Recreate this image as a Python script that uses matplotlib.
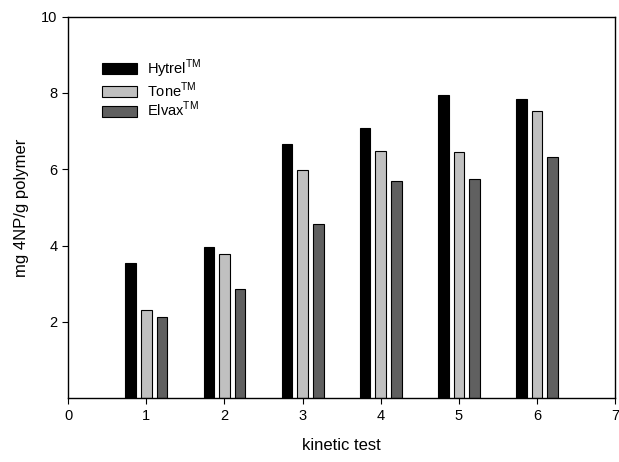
import matplotlib.pyplot as plt
import numpy as np

plt.rcParams['font.family'] = ['Liberation Sans', 'DejaVu Sans']

tests = [1, 2, 3, 4, 5, 6]
hytrel = [3.54, 3.97, 6.66, 7.07, 7.94, 7.84]
tone = [2.31, 3.79, 5.98, 6.48, 6.45, 7.53]
elvax = [2.12, 2.86, 4.56, 5.70, 5.75, 6.31]

series = [('Hytrel', hytrel, '#000000'),
          ('Tone', tone, '#c0c0c0'),
          ('Elvax', elvax, '#606060')]

fig = plt.figure(figsize=(6.19, 4.62), dpi=100)
ax = fig.add_axes([0.110, 0.138, 0.884, 0.826])

x = np.array(tests)
w = 0.135
offsets = [-0.2, 0.0, 0.2]
for (name, vals, col), off in zip(series, offsets):
    ax.bar(x + off, vals, width=w, color=col, edgecolor='black', linewidth=0.8,
           label=name + r'$^{\mathregular{TM}}$')

ax.set_xlim(0, 7)
ax.set_ylim(0, 10)
ax.set_xticks(range(0, 8))
ax.set_yticks([2, 4, 6, 8, 10])
ax.tick_params(direction='out', length=4, labelsize=10.5)
ax.tick_params(axis='both', which='both', right=False, top=False)
for s in ax.spines.values():
    s.set_linewidth(1.0)

ax.set_xlabel('kinetic test', fontsize=12, labelpad=11)
ax.set_ylabel('mg 4NP/g polymer', fontsize=12, labelpad=9)

ax.legend(loc='upper left', bbox_to_anchor=(0.04, 0.923), frameon=False,
          fontsize=10.5, handlelength=2.4, handleheight=0.8, labelspacing=0.02,
          handletextpad=0.7, borderpad=0.3)

fig.savefig('out.png', dpi=100)
